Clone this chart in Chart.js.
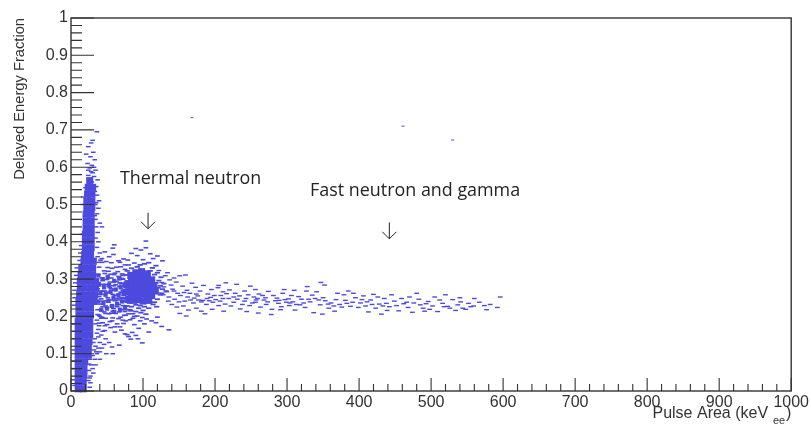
<!DOCTYPE html>
<html>
<head>
<meta charset="utf-8">
<script src="https://cdn.jsdelivr.net/npm/chart.js@4"></script>
<style>
  html, body { margin: 0; padding: 0; background: #fff; }
  #wrap { width: 811px; height: 425px; }
</style>
</head>
<body>
<div id="wrap"><canvas id="grafico"></canvas></div>
<script>
// tick labels
const xTickLabels = [0, 100, 200, 300, 400, 500, 600, 700, 800, 900, 1000];
const yTickLabels = [0, 0.1, 0.2, 0.3, 0.4, 0.5, 0.6, 0.7, 0.8, 0.9, 1];

// solid part of the thermal band, [x, y]
const bandCore = [
  [10,.006],[17,.006],[10,.024],[17,.024],[10,.042],[18,.042],[10,.06],[18,.06],[10,.078],[19,.078],
  [10,.096],[19,.096],[24,.096],[10,.114],[18,.114],[24,.114],[10,.132],[18,.132],[25,.132],[10,.15],[18,.15],[26,.15],
  [10,.168],[18,.168],[26,.168],[10,.186],[18,.186],[26,.186],[11,.204],[19,.204],[27,.204],[11,.222],[19,.222],[27,.222],
  [11,.24],[19,.24],[27,.24],[32,.24],[12,.258],[20,.258],[28,.258],[33,.258],[13,.276],[21,.276],[29,.276],[34,.276],
  [13,.294],[21,.294],[29,.294],[34,.294],[14,.312],[22,.312],[30,.312],[15,.33],[23,.33],[30,.33],[18,.348],[26,.348],[31,.348],
  [19,.366],[27,.366],[20,.384],[28,.384],[20,.402],[28,.402],[20,.42],[28,.42],[21,.438],[28,.438],[21,.456],[28,.456],
  [21,.474],[28,.474],[22,.492],[29,.492],[22,.51],[29,.51],[23,.528],[29,.528],[24,.546],[30,.546],[26,.564]
];

// loose dashes along the edge of the band, [x, y]
const bandEdge = [
  [36,.695],[30,.672],[28,.665],[24,.655],[31,.64],[27,.628],[33,.62],[23,.61],[29,.605],[26,.598],[21,.635],[32,.6],[24,.592],
  [34,.592],[28,.588],[24,.578],[32,.575],[37,.566],[29,.56],[35,.548],[20,.545],[33,.535],[36,.525],[39,.51],[35,.505],[30,.585],
  [17,.52],[16,.5],[38,.49],[36,.475],[34,.46],[40,.45],[35,.44],[43,.44],[37,.425],[34,.41],[38,.4],[36,.385],[34,.5],[33,.47],
  [15,.42],[14,.39],[13,.37],[12,.35],[40,.37],[43,.355],[37,.36],[39,.345],[8,.33],[7,.31],[6,.29],[5,.27],[5,.25],
  [4,.23],[4,.2],[4,.18],[4,.16],[4,.14],[4,.11],[4,.08],[4,.06],[4,.03],[5,.015],
  [26,.01],[24,.028],[27,.04],[25,.055],[28,.07],[26,.085],[30,.095],[32,.11],[34,.12],[31,.13],[35,.105],[33,.14],
  [36,.155],[38,.165],[34,.18],[39,.175],[36,.19],[40,.2],[42,.195],[38,.145],[40,.13],[33,.085],[30,.06],[25,.072],[27,.022],
  [44,.16],[47,.175],[42,.15],[48,.14],[53,.13],[46,.125],[43,.115],[38,.115],[40,.105],[49,.1],[58,.1],[36,.1],[40,.085],[34,.07],[57,.118],[31,.048],[26,.035]
];

// mostly filled stretch joining the band and the blob, [x, y]
const middleCore = [
  [38,.31],[44,.3],[51,.306],[39,.285],[46,.278],[53,.284],[60,.295],[67,.302],[41,.262],[48,.258],[55,.266],[62,.272],[69,.278],[75,.285],
  [38,.24],[45,.236],[52,.242],[59,.25],[66,.256],[73,.262],[78,.27],[42,.218],[50,.221],[57,.228],[64,.234],[71,.24],[77,.246],[60,.212],[68,.218],[75,.224]
];

// region between the band and the blob, [x, y]
const middleCloud = [
  [39,.332],[41,.351],[46,.322],[49,.347],[53,.36],[59,.366],[63,.332],[66,.349],[73,.354],[79,.351],[60,.392],[58,.383],[47,.373],[90,.382],[104,.402],
  [38,.312],[43,.303],[47,.315],[52,.321],[57,.329],[61,.316],[69,.333],[56,.303],[60,.312],[66,.307],[38,.291],[44,.286],[50,.299],[75,.338],[56,.344],
  [54,.292],[59,.282],[63,.294],[68,.299],[71,.314],[37,.274],[41,.268],[46,.281],[49,.265],[54,.277],[58,.259],[62,.272],[67,.28],[70,.288],[44,.296],
  [39,.253],[42,.247],[47,.259],[51,.25],[55,.244],[61,.257],[64,.248],[69,.265],[72,.27],[40,.233],[44,.241],[48,.228],[52,.238],[57,.229],[47,.268],
  [61,.242],[66,.232],[71,.247],[37,.218],[42,.215],[46,.212],[50,.224],[56,.209],[59,.221],[64,.226],[67,.212],[72,.229],[75,.213],[39,.203],[66,.26],
  [43,.198],[48,.195],[53,.207],[58,.196],[62,.208],[69,.198],[74,.203],[80,.207],[44,.183],[50,.178],[57,.188],[64,.18],[68,.172],[73,.181],[56,.274],
  [76,.188],[82,.191],[88,.178],[94,.168],[39,.182],[47,.162],[55,.17],[70,.163],[75,.153],[80,.146],[85,.157],[93,.14],[99,.129],[67,.123],[62,.285],
  [78,.151],[83,.139],[90,.149],[61,.158],[105,.193],[112,.188],[118,.183],[126,.173],[136,.164],[120,.198],[99,.197],[92,.201],[86,.207],[108,.158],
  [84,.369],[92,.363],[97,.378],[104,.384],[110,.368],[100,.352],[88,.343],[120,.362],[127,.349],[114,.355],[80,.338],[75,.326],[92,.333],[68,.345],
  [43,.345],[51,.331],[55,.313],[65,.32],[70,.302],[48,.286],[53,.263],[60,.27],[65,.244],[73,.256],[78,.238],[50,.242],[44,.226],[58,.214],[70,.218],
  [82,.218],[76,.203],[66,.194],[54,.186],[61,.172],[72,.19],[86,.195],[96,.188],[102,.18],[48,.208],[40,.26],[36,.3],[35,.24],[37,.205],[44,.268]
];

// dense blob at the thermal peak
const blobCore = [
  [84,.3],[91,.303],[98,.306],[105,.3],[112,.298],[87,.285],[94,.287],[101,.29],[108,.284],[115,.282],[82,.27],[89,.272],[96,.274],[103,.272],[110,.27],
  [84,.256],[91,.258],[98,.26],[105,.256],[87,.243],[94,.245],[100,.241],[90,.317],[98,.32],[106,.314],[78,.285],[76,.265],[117,.268],[112,.256],[80,.246],
  [108,.243],[83,.31]
];
const blobEdge = [
  [78,.322],[84,.329],[92,.333],[96,.338],[102,.341],[108,.344],[113,.33],[118,.336],[76,.311],[120,.317],[125,.305],[72,.3],[78,.295],[122,.296],[129,.288],
  [70,.283],[76,.279],[121,.277],[127,.273],[132,.268],[72,.264],[78,.262],[119,.264],[124,.258],[70,.25],[77,.249],[113,.25],[120,.246],[74,.24],[81,.236],
  [108,.238],[114,.232],[119,.226],[78,.228],[84,.226],[90,.231],[96,.229],[102,.226],[108,.222],[83,.215],[90,.213],[97,.21],[104,.206],[76,.218],[88,.2],
  [116,.312],[110,.322],[124,.282],[118,.29],[126,.262],[72,.31],[68,.29],[116,.238],[100,.216],[94,.222]
];

// tail of fast neutron and gamma, [x, y]
const tail = [
  [122,.323],[131,.309],[134,.317],[126,.291],[137,.298],[143,.303],[129,.279],[139,.284],[146,.292],[151,.309],[159,.311],[133,.266],[141,.273],[148,.262],[155,.281],
  [161,.27],[168,.289],[173,.278],[136,.252],[144,.246],[152,.256],[158,.241],[165,.262],[171,.249],[179,.268],[184,.283],[195,.272],[140,.232],[147,.225],[156,.228],
  [163,.217],[170,.236],[176,.255],[183,.243],[190,.26],[197,.238],[204,.277],[211,.266],[151,.208],[160,.201],[174,.222],[181,.214],[188,.232],[194,.251],[201,.245],
  [208,.256],[214,.233],[220,.271],[228,.262],[186,.207],[196,.219],[205,.229],[212,.214],[219,.248],[226,.238],[234,.255],[241,.268],[249,.281],[256,.272],
  [205,.283],[215,.29],[230,.286],[241,.241],[248,.229],[254,.252],[261,.26],[268,.244],[274,.267],[281,.256],[288,.235],[294,.262],[302,.247],[235,.22],[244,.213],
  [256,.238],[263,.225],[271,.232],[279,.219],[286,.249],[292,.226],[299,.238],[306,.256],[313,.232],[320,.246],[327,.268],[335,.257],[260,.209],[278,.205],[291,.218],
  [303,.229],[311,.217],[318,.231],[325,.224],[332,.239],[339,.248],[346,.231],[353,.242],[361,.236],[296,.272],[310,.27],[328,.28],[341,.266],[347,.291],[352,.284],
  [337,.21],[349,.206],[358,.222],[366,.214],[373,.232],[381,.243],[388,.227],[395,.25],[402,.236],[409,.228],[416,.244],[423,.222],[370,.262],[379,.258],[385,.268],
  [392,.262],[399,.224],[406,.255],[413,.212],[420,.259],[428,.233],[435,.248],[442,.226],[449,.241],[455,.215],[462,.234],[468,.224],[431,.206],[445,.258],[439,.216],
  [476,.236],[483,.246],[489,.222],[496,.24],[502,.228],[509,.213],[516,.235],[523,.227],[530,.245],[537,.231],[544,.222],[552,.235],[559,.228],[567,.238],[574,.229],
  [582,.232],[592,.224],[596,.252],[480,.262],[505,.252],[520,.258],[540,.25],[560,.248],[491,.214],[474,.211],[534,.216],[548,.219],[512,.244],[577,.218],[470,.252],
  [128,.258],[135,.241],[143,.268],[150,.239],[157,.264],[166,.244],[174,.26],[181,.239],[189,.248],[199,.256],[207,.241],[216,.261],[222,.228],[231,.246],[238,.232],
  [246,.258],[252,.236],[259,.248],[266,.256],[273,.239],[284,.242],[297,.245],[308,.239],[316,.253],[323,.236],[344,.244],[357,.233],[368,.245],[376,.225],[391,.238],
  [404,.245],[418,.232],[426,.252],[438,.235],[452,.229],[459,.248],[485,.231],[498,.219],[526,.222],[541,.239],[555,.226],[162,.252],[177,.244],[192,.242],[211,.248],
  [226,.252],[243,.248],[257,.244],[270,.25],[289,.243],[304,.236],[330,.246],[350,.25],[365,.228],[383,.235],[411,.239],[433,.228],[466,.238],[493,.234],[518,.226]
];

// isolated events, [x, y]
const stray = [[168,.733],[461,.71],[530,.673]];

// annotations, in data units
const notas = [
  { texto: "Thermal neutron", x: 68, y: .568 },
  { texto: "Fast neutron and gamma", x: 332, y: .537 }
];
const flechas = [[107, .478, .435], [442, .452, .408]];

const AZUL = "#4c4ade";
const OSCURO = "#333333";

function comoPuntos(lista) {
  return lista.map((p) => ({ x: p[0], y: p[1] }));
}

function serie(lista, estilo, radio, ancho) {
  return {
    data: comoPuntos(lista),
    showLine: false,
    pointStyle: estilo,
    pointRadius: radio,
    pointBorderWidth: ancho,
    pointBackgroundColor: AZUL,
    pointBorderColor: AZUL,
    clip: false
  };
}

// ticks hacia adentro y el marco, estilo ROOT
const marcoPlugin = {
  id: "marco",
  afterDraw(chart) {
    const { ctx, chartArea: a, scales: { x, y } } = chart;
    ctx.save();
    ctx.strokeStyle = OSCURO;
    ctx.lineWidth = 1.4;
    ctx.strokeRect(a.left, a.top, a.right - a.left, a.bottom - a.top);
    ctx.lineWidth = 1.1;
    ctx.beginPath();
    for (let i = 0; i <= 50; i++) {
      const px = x.getPixelForValue(i * 20);
      const largo = i % 5 === 0 ? 13 : 7;
      ctx.moveTo(px, a.bottom);
      ctx.lineTo(px, a.bottom - largo);
      const py = y.getPixelForValue(i / 50);
      const largoY = i % 5 === 0 ? 23 : 11;
      ctx.moveTo(a.left, py);
      ctx.lineTo(a.left + largoY, py);
    }
    ctx.stroke();

    // notas y flechas
    ctx.fillStyle = "#222";
    ctx.textBaseline = "middle";
    ctx.font = '17.9px "Open Sans"';
    notas.forEach((n) => ctx.fillText(n.texto, x.getPixelForValue(n.x), y.getPixelForValue(n.y)));
    ctx.strokeStyle = "#222";
    ctx.lineWidth = 1;
    flechas.forEach((f) => {
      const px = x.getPixelForValue(f[0]);
      const arriba = y.getPixelForValue(f[1]);
      const abajo = y.getPixelForValue(f[2]);
      ctx.beginPath();
      ctx.moveTo(px, arriba);
      ctx.lineTo(px, abajo);
      ctx.moveTo(px - 7, abajo - 7);
      ctx.lineTo(px, abajo);
      ctx.lineTo(px + 7, abajo - 7);
      ctx.stroke();
    });

    // subindice del titulo del eje x
    ctx.fillStyle = OSCURO;
    ctx.font = '11px "Liberation Sans"';
    ctx.fillText("ee", 773, 421);
    ctx.restore();
  }
};

new Chart(document.getElementById("grafico"), {
  type: "scatter",
  data: {
    datasets: [
      serie(bandCore, "rect", 5, 0),
      serie(bandEdge, "line", 2.3, 1.5),
      serie(middleCore, "rect", 3, 0),
      serie(middleCloud, "line", 2.4, 1.6),
      serie(blobCore, "rect", 5, 0),
      serie(blobEdge, "line", 2.6, 1.8),
      serie(tail, "line", 2.4, 1.4),
      serie(stray, "line", 1.5, 1)
    ]
  },
  options: {
    responsive: true,
    maintainAspectRatio: false,
    animation: false,
    layout: { padding: { top: 18, right: 19, left: 0, bottom: 0 } },
    plugins: { legend: { display: false }, tooltip: { enabled: false } },
    scales: {
      x: {
        type: "linear",
        min: 0,
        max: 1000,
        afterBuildTicks: (s) => { s.ticks = xTickLabels.map((v) => ({ value: v })); },
        afterFit: (s) => { s.height = 34; },
        border: { display: false },
        grid: { display: false, drawTicks: false },
        ticks: { color: OSCURO, padding: 2, maxRotation: 0, autoSkip: false, callback: (v) => String(v), font: { family: "Liberation Sans", size: 16 } },
        title: {
          display: true,
          text: "Pulse Area (keV    )",
          align: "end",
          color: OSCURO,
          padding: { top: 0, bottom: 2 },
          font: { family: "Liberation Sans", size: 16 }
        }
      },
      y: {
        type: "linear",
        min: 0,
        max: 1,
        afterBuildTicks: (s) => { s.ticks = yTickLabels.map((v) => ({ value: v })); },
        afterFit: (s) => { s.width = 71; },
        border: { display: false },
        grid: { display: false, drawTicks: false },
        ticks: { color: OSCURO, padding: 3, autoSkip: false, callback: (v) => String(v), font: { family: "Liberation Sans", size: 16 } },
        title: {
          display: true,
          text: "Delayed Energy Fraction",
          align: "end",
          color: OSCURO,
          padding: { top: 11, bottom: 0 },
          font: { family: "Liberation Sans", size: 14.7 }
        }
      }
    }
  },
  plugins: [marcoPlugin]
});
</script>
</body>
</html>
